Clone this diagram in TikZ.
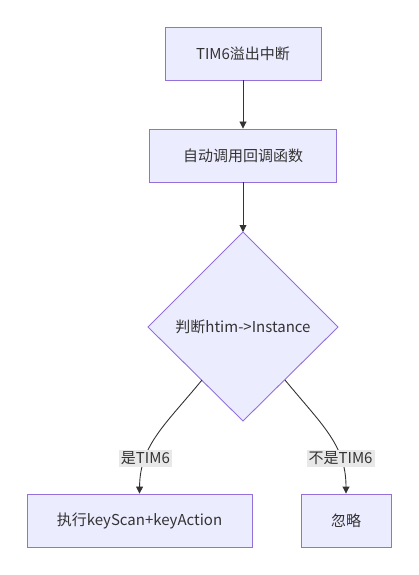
\documentclass[tikz,border=0pt]{standalone}
\usepackage{fontspec}
\setmainfont{Noto Sans CJK SC}
\usetikzlibrary{shapes.geometric,arrows.meta}
\definecolor{nodefill}{HTML}{ECECFF}
\definecolor{nodeline}{HTML}{9370DB}
\definecolor{edgeline}{HTML}{333333}
\definecolor{labelbg}{HTML}{E8E8E8}
\definecolor{txt}{HTML}{333333}
\tikzset{
  box/.style={draw=nodeline, fill=nodefill, line width=0.9pt, inner sep=0pt, text=txt, font=\fontsize{15}{17}\selectfont},
  edge/.style={draw=edgeline, line width=0.9pt, -{Triangle[length=7pt,width=7pt]}},
  elabel/.style={fill=labelbg, text=txt, inner sep=2pt, font=\fontsize{15}{17}\selectfont}
}
\begin{document}
\begin{tikzpicture}[x=1pt,y=-1pt]
\useasboundingbox (0,0) rectangle (419,575);
\node[box, minimum width=156pt, minimum height=53pt] (a) at (243,53.5) {TIM6溢出中断};
\node[box, minimum width=187pt, minimum height=53pt] (b) at (243,155.5) {自动调用回调函数};
\draw[draw=nodeline, fill=nodefill, line width=0.9pt] (243,232) -- (338,327) -- (243,421) -- (148,327) -- cycle;
\node[text=txt, font=\fontsize{15}{17}\selectfont] (c) at (243,327) {判断htim->Instance};
\coordinate (cl) at (202,380);
\coordinate (cr) at (285,380);
\node[box, minimum width=225pt, minimum height=53pt] (d) at (139.5,520.5) {执行keyScan+keyAction};
\node[box, minimum width=90pt, minimum height=53pt] (e) at (346,520.5) {忽略};
\draw[edge] (a) -- (b);
\draw[edge] (b.south) -- (243,232);
\draw[edge] (cl) .. controls (165,425) and (140,445) .. node[elabel, pos=0.72] {是TIM6} (d.north);
\draw[edge] (cr) .. controls (322,425) and (346,445) .. node[elabel, pos=0.72] {不是TIM6} (e.north);
\end{tikzpicture}
\end{document}
